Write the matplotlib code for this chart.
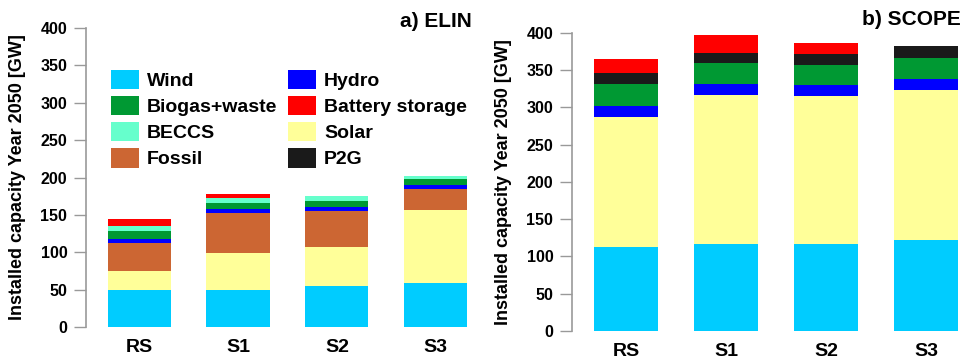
import numpy as np
import matplotlib
matplotlib.use("Agg")
import matplotlib.pyplot as plt
from matplotlib.patches import Patch

plt.rcParams['font.family'] = ['Liberation Sans', 'DejaVu Sans']
plt.rcParams['font.weight'] = 'bold'

# === DATA ===
scenarios = ["RS", "S1", "S2", "S3"]
techs = ["Wind", "Solar", "Fossil", "Hydro", "Biogas+waste", "BECCS", "P2G", "Battery storage"]
colors = {
    "Wind": "#00CCFF",
    "Solar": "#FFFF99",
    "Fossil": "#CC6633",
    "Hydro": "#0000FF",
    "Biogas+waste": "#009933",
    "BECCS": "#66FFCC",
    "P2G": "#1A1A1A",
    "Battery storage": "#FF0000",
}

# ELIN installed capacity [GW]
elin_wind    = [49, 49.5, 55, 58.5]
elin_solar   = [26, 50, 52, 98]
elin_fossil  = [38, 53.5, 48, 28]
elin_hydro   = [5, 5, 5, 5.5]
elin_biogas  = [11, 8, 9, 7.5]
elin_beccs   = [6.5, 6, 6, 5]
elin_p2g     = [0, 0, 0, 0]
elin_battery = [8.5, 5.5, 0, 0]

# SCOPE installed capacity [GW]
scope_wind    = [112, 116.5, 116.5, 122]
scope_solar   = [175, 200, 198.5, 201]
scope_fossil  = [0, 0, 0, 0]
scope_hydro   = [15, 14.5, 15, 15]
scope_biogas  = [29.5, 28, 27, 28.5]
scope_beccs   = [0, 0, 0, 0]
scope_p2g     = [14.5, 14, 15, 15]
scope_battery = [18.5, 24, 14, 0]

elin = [elin_wind, elin_solar, elin_fossil, elin_hydro, elin_biogas, elin_beccs, elin_p2g, elin_battery]
scope = [scope_wind, scope_solar, scope_fossil, scope_hydro, scope_biogas, scope_beccs, scope_p2g, scope_battery]

legend_order = ["Wind", "Biogas+waste", "BECCS", "Fossil", "Hydro", "Battery storage", "Solar", "P2G"]

W, H = 963, 363
fig = plt.figure(figsize=(W / 100, H / 100), dpi=100)


def make_axes(x0, x1, y_top, y_bot):
    return fig.add_axes([x0 / W, 1 - y_bot / H, (x1 - x0) / W, (y_bot - y_top) / H])


def draw(ax, data, xlim):
    x = np.arange(len(scenarios))
    bottom = np.zeros(len(scenarios))
    for name, vals in zip(techs, data):
        vals = np.array(vals, dtype=float)
        ax.bar(x, vals, 0.64, bottom=bottom, color=colors[name], linewidth=0)
        bottom += vals
    ax.set_ylim(0, 400)
    ax.set_xlim(*xlim)
    ax.set_yticks(np.arange(0, 401, 50))
    ax.set_xticks(x)
    ax.set_xticklabels(scenarios, fontsize=14, fontweight='bold')
    for s in ["top", "right", "bottom"]:
        ax.spines[s].set_visible(False)
    ax.spines["left"].set_color("#999999")
    ax.spines["left"].set_linewidth(1.2)
    ax.tick_params(axis='y', length=8.5, width=1, color="#999999", labelsize=11.5, pad=5)
    ax.tick_params(axis='x', length=0, pad=9)
    for lbl in ax.get_yticklabels():
        lbl.set_fontweight('bold')
    ax.set_facecolor("none")


ax1 = make_axes(86, 481, 28, 327)
draw(ax1, elin, (-0.54, 3.46))
ax2 = make_axes(572, 961, 32.7, 331)
draw(ax2, scope, (-0.545, 3.35))

fig.text(472 / W, 1 - 27 / H, "a) ELIN", ha='right', va='baseline', fontsize=15, fontweight='bold')
fig.text(961 / W, 1 - 25 / H, "b) SCOPE", ha='right', va='baseline', fontsize=15, fontweight='bold')

ylab = "Installed capacity Year 2050 [GW]"
fig.text(18 / W, 1 - 177 / H, ylab, rotation=90, ha='center', va='center', fontsize=13, fontweight='bold')
fig.text(504 / W, 1 - 182 / H, ylab, rotation=90, ha='center', va='center', fontsize=13, fontweight='bold')

handles = [Patch(facecolor=colors[n], edgecolor='none') for n in legend_order]
fig.legend(handles, legend_order, loc='upper left', bbox_to_anchor=(111 / W, 1 - 70 / H),
           ncol=2, frameon=False, borderpad=0, borderaxespad=0,
           handlelength=1.45, handleheight=1.15, handletextpad=0.4,
           labelspacing=0.3, columnspacing=0.55, prop={'weight': 'bold', 'size': 14})

fig.savefig("out.png", dpi=100)
